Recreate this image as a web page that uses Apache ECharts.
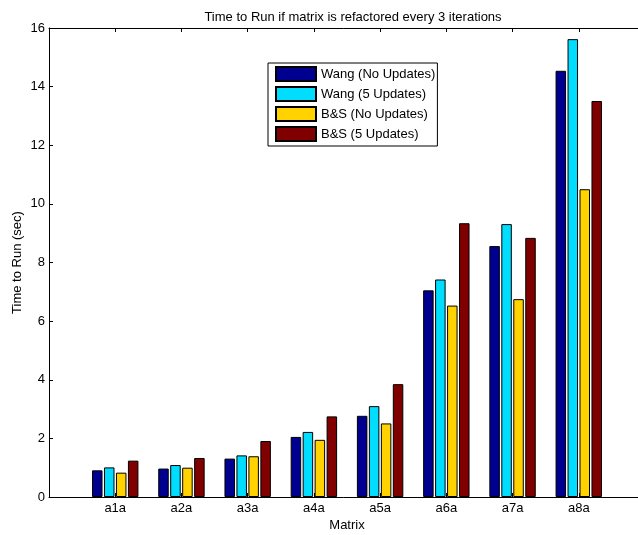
<!DOCTYPE html>
<html>
<head>
<meta charset="utf-8">
<script src="https://cdn.jsdelivr.net/npm/echarts@6/dist/echarts.min.js"></script>
<style>
  html, body { margin: 0; padding: 0; background: #fff; }
  #chart { width: 638px; height: 535px; }
</style>
</head>
<body>
<div id="chart"></div>
<script>
// Test matrices along the x axis
const categories = ['a1a', 'a2a', 'a3a', 'a4a', 'a5a', 'a6a', 'a7a', 'a8a'];

// Run times in seconds, one array per solver variant
const wangNoUpdates = [0.91, 0.97, 1.31, 2.05, 2.77, 7.05, 8.56, 14.54];
const wang5Updates  = [1.01, 1.09, 1.42, 2.22, 3.10, 7.42, 9.31, 15.62];
const bsNoUpdates   = [0.83, 1.00, 1.39, 1.95, 2.51, 6.53, 6.75, 10.50];
const bs5Updates    = [1.24, 1.33, 1.91, 2.75, 3.85, 9.34, 8.84, 13.51];

const seriesNames = ['Wang (No Updates)', 'Wang (5 Updates)', 'B&S (No Updates)', 'B&S (5 Updates)'];
const seriesValues = [wangNoUpdates, wang5Updates, bsNoUpdates, bs5Updates];
const seriesColors = ['#000090', '#00DDFF', '#FFD200', '#800000'];

const yTicks = { min: 0, max: 16, step: 2 };

const font = 'Liberation Sans, Arial, Helvetica, sans-serif';
const fs = 13;

const chart = echarts.init(document.getElementById('chart'), null, { renderer: 'canvas' });

const series = seriesValues.map((vals, s) => ({
  name: seriesNames[s],
  type: 'bar',
  data: vals.map((v, i) => [i + 1, v]),
  barWidth: 10.5,
  barGap: '14%',
  itemStyle: { color: seriesColors[s], borderColor: '#000', borderWidth: 1 },
  animation: false
}));

chart.setOption({
  animation: false,
  backgroundColor: '#fff',
  title: {
    text: 'Time to Run if matrix is refactored every 3 iterations',
    left: 348, top: 6, textAlign: 'center',
    textStyle: { fontFamily: font, fontSize: fs, fontWeight: 'normal', color: '#000' }
  },
  legend: {
    orient: 'vertical',
    left: 268, top: 63,
    icon: 'rect',
    itemWidth: 40, itemHeight: 14, itemGap: 4,
    padding: [3, 2, 4, 7],
    borderColor: '#000', borderWidth: 1,
    backgroundColor: '#fff',
    textStyle: { fontFamily: font, fontSize: fs, color: '#000' },
    data: seriesNames
  },
  grid: { left: 49, top: 28, width: 596, height: 469, outerBoundsMode: 'none', containLabel: false },
  xAxis: [{
    type: 'value',
    min: 0, max: categories.length + 1, interval: 1,
    name: 'Matrix', nameLocation: 'middle', nameGap: 22, nameMoveOverlap: false,
    nameTextStyle: { fontFamily: font, fontSize: fs, color: '#000' },
    axisLine: { show: true, onZero: false, lineStyle: { color: '#000', width: 1 } },
    axisTick: { show: true, inside: true, length: 4, lineStyle: { color: '#000' } },
    axisLabel: {
      fontFamily: font, fontSize: fs, color: '#000', margin: 5,
      formatter: v => categories[v - 1] || ''
    },
    splitLine: { show: false }
  }, {
    type: 'value', position: 'top',
    min: 0, max: categories.length + 1, interval: 1,
    axisLine: { show: true, onZero: false, lineStyle: { color: '#000', width: 1 } },
    axisTick: { show: true, inside: true, length: 4, lineStyle: { color: '#000' } },
    axisLabel: { show: false },
    splitLine: { show: false }
  }],
  yAxis: {
    type: 'value',
    min: yTicks.min, max: yTicks.max, interval: yTicks.step,
    name: 'Time to Run (sec)', nameLocation: 'middle', nameGap: 25, nameRotate: 90,
    nameMoveOverlap: false,
    nameTextStyle: { fontFamily: font, fontSize: fs, color: '#000' },
    axisLine: { show: true, onZero: false, lineStyle: { color: '#000', width: 1 } },
    axisTick: { show: true, inside: true, length: 4, lineStyle: { color: '#000' } },
    axisLabel: { fontFamily: font, fontSize: fs, color: '#000', margin: 4 },
    splitLine: { show: false }
  },
  series: series
});
</script>
</body>
</html>
